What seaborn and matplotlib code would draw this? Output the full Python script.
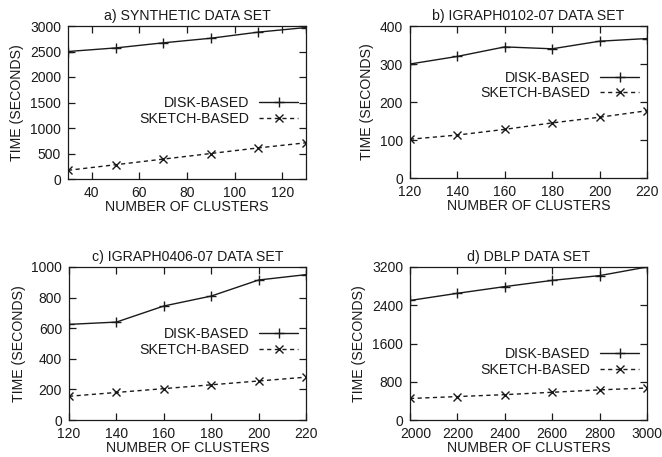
import matplotlib
matplotlib.use("Agg")
import matplotlib.pyplot as plt
from matplotlib.transforms import ScaledTranslation
import seaborn as sns
import pandas as pd

sns.set_theme(style="ticks")
plt.rcParams['font.family'] = ['Liberation Sans', 'DejaVu Sans']

# ---- data ----
titles = ["a) SYNTHETIC DATA SET", "b) IGRAPH0102-07 DATA SET",
          "c) IGRAPH0406-07 DATA SET", "d) DBLP DATA SET"]

clusters_a = [30, 50, 70, 90, 110, 130]
disk_a = [2500, 2570, 2670, 2760, 2880, 2970]
sketch_a = [170, 280, 390, 500, 610, 710]

clusters_b = [120, 140, 160, 180, 200, 220]
disk_b = [300, 320, 345, 340, 360, 367]
sketch_b = [102, 113, 128, 145, 160, 177]

clusters_c = [120, 140, 160, 180, 200, 220]
disk_c = [625, 640, 745, 810, 915, 950]
sketch_c = [155, 180, 205, 230, 255, 280]

clusters_d = [2000, 2200, 2400, 2600, 2800, 3000]
disk_d = [2500, 2650, 2790, 2920, 3020, 3200]
sketch_d = [450, 490, 530, 580, 630, 670]

xticks_list = [[40, 60, 80, 100, 120], [120, 140, 160, 180, 200, 220],
               [120, 140, 160, 180, 200, 220], [2000, 2200, 2400, 2600, 2800, 3000]]
yticks_list = [[0, 500, 1000, 1500, 2000, 2500, 3000], [0, 100, 200, 300, 400],
               [0, 200, 400, 600, 800, 1000], [0, 800, 1600, 2400, 3200]]
xlims = [(30, 130), (120, 220), (120, 220), (2000, 3000)]
ylims = [(0, 3000), (0, 400), (0, 1000), (0, 3200)]

panels = [(clusters_a, disk_a, sketch_a), (clusters_b, disk_b, sketch_b),
          (clusters_c, disk_c, sketch_c), (clusters_d, disk_d, sketch_d)]

# ---- layout ----
W, H = 662, 457
fig = plt.figure(figsize=(W / 100, H / 100), dpi=100)
boxes = [(68, 26, 306, 179), (410, 26, 647, 178), (69, 267, 306, 420), (410, 267, 647, 420)]
legend_y = [0.445, 0.61, 0.51, 0.38]

col = "#1a1a1a"
fs = 10.2
for i, (bx, (xs, d, s)) in enumerate(zip(boxes, panels)):
    l, t, r, b = bx
    ax = fig.add_axes([l / W, 1 - b / H, (r - l) / W, (b - t) / H])
    df = pd.DataFrame({"x": xs, "disk": d, "sketch": s})
    sns.lineplot(data=df, x="x", y="disk", ax=ax, color=col, lw=1.0,
                 marker="+", markersize=7, mew=1.0, mec=col, mfc=col,
                 label="DISK-BASED")
    sns.lineplot(data=df, x="x", y="sketch", ax=ax, color=col, lw=1.0,
                 linestyle=(0, (3, 2.5)), marker="x", markersize=6, mew=1.0,
                 mec=col, mfc=col, label="SKETCH-BASED")
    ax.set_xlim(*xlims[i])
    ax.set_ylim(*ylims[i])
    ax.set_xticks(xticks_list[i])
    ax.set_yticks(yticks_list[i])
    ax.tick_params(direction="in", top=True, right=True, length=5, width=0.9,
                   labelsize=10, colors="#1a1a1a")
    ax.tick_params(axis="x", pad=5)
    ax.tick_params(axis="y", pad=5)
    for sp in ax.spines.values():
        sp.set_linewidth(0.9)
        sp.set_color(col)
    ax.set_xlabel("NUMBER OF CLUSTERS", fontsize=fs, labelpad=0, color=col)
    ax.set_ylabel("TIME (SECONDS)", fontsize=fs, labelpad=4, color=col)
    ax.set_title(titles[i], fontsize=fs, pad=4, color=col)
    leg = ax.legend(loc="center right", bbox_to_anchor=(0.965, legend_y[i]),
                    frameon=False, markerfirst=False, fontsize=fs,
                    handlelength=2.7, handletextpad=0.7, labelspacing=0.1,
                    borderpad=0, borderaxespad=0)
    for tx in leg.get_texts():
        tx.set_color(col)
    if i == 3:
        lab = ax.get_xticklabels()[0]
        lab.set_transform(lab.get_transform() + ScaledTranslation(6 / 100, 0, fig.dpi_scale_trans))

fig.savefig("out.png", dpi=100)
